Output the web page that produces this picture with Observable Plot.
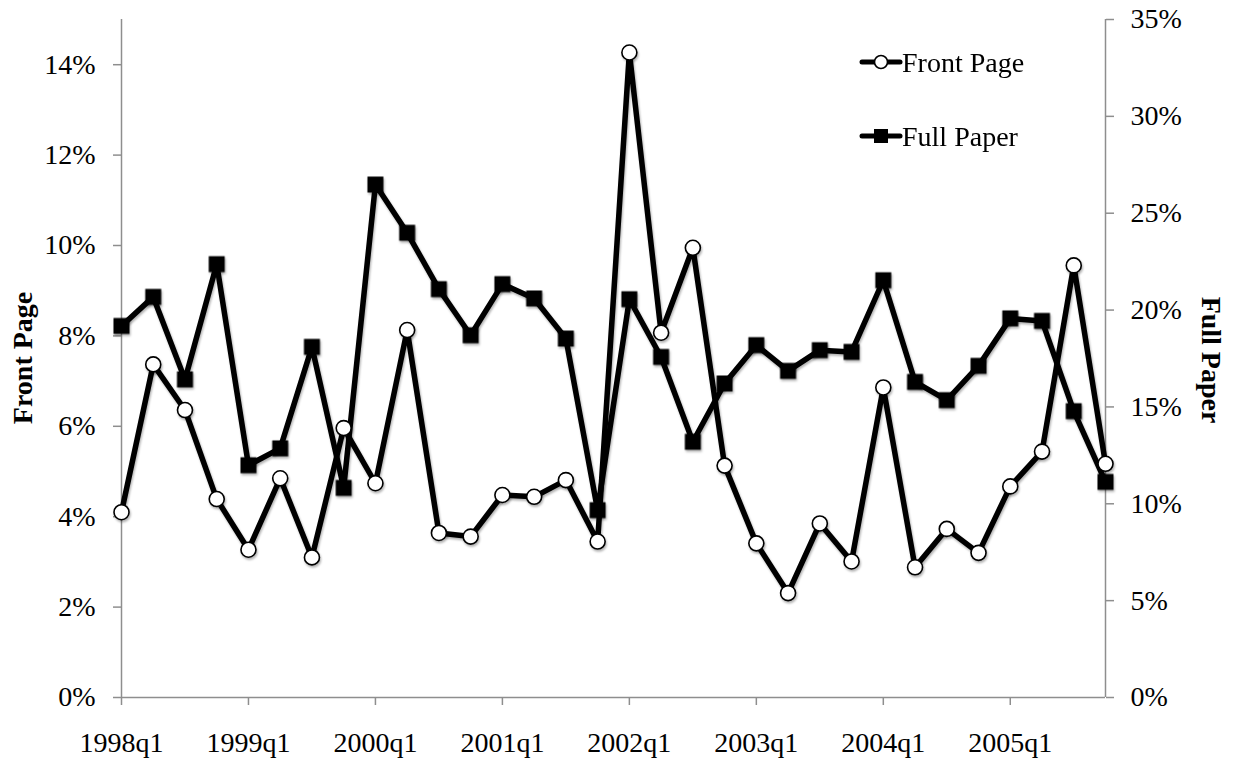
<!DOCTYPE html>
<html>
<head>
<meta charset="utf-8">
<script src="https://cdn.jsdelivr.net/npm/d3@7"></script>
<script src="https://cdn.jsdelivr.net/npm/@observablehq/plot@0.6"></script>
<style>
  html, body { margin: 0; padding: 0; background: #fff; overflow: hidden; }
  svg text { font-family: "Liberation Serif", "Times New Roman", serif; }
</style>
</head>
<body>
<div id="chart"></div>
<script>
const quarters = [
  "1998q1","1998q2","1998q3","1998q4",
  "1999q1","1999q2","1999q3","1999q4",
  "2000q1","2000q2","2000q3","2000q4",
  "2001q1","2001q2","2001q3","2001q4",
  "2002q1","2002q2","2002q3","2002q4",
  "2003q1","2003q2","2003q3","2003q4",
  "2004q1","2004q2","2004q3","2004q4",
  "2005q1","2005q2","2005q3","2005q4"
];
// Front Page share (left axis), in %
const frontPage = [
  4.10, 7.37, 6.36, 4.39,
  3.27, 4.85, 3.10, 5.96,
  4.74, 8.13, 3.64, 3.56,
  4.48, 4.44, 4.81, 3.45,
  14.27, 8.07, 9.95, 5.13,
  3.41, 2.31, 3.85, 3.01,
  6.86, 2.88, 3.73, 3.20,
  4.67, 5.44, 9.56, 5.17
];
// Full Paper share (right axis), in %
const fullPaper = [
  19.18, 20.68, 16.42, 22.37,
  11.99, 12.86, 18.10, 10.82,
  26.48, 23.99, 21.08, 18.70,
  21.34, 20.60, 18.53, 9.67,
  20.56, 17.58, 13.20, 16.21,
  18.19, 16.86, 17.93, 17.84,
  21.54, 16.29, 15.35, 17.12,
  19.57, 19.44, 14.78, 11.13
];
const xTickLabels = ["1998q1","1999q1","2000q1","2001q1","2002q1","2003q1","2004q1","2005q1"];
const leftTicks = [0, 2, 4, 6, 8, 10, 12, 14];
const rightTicks = [0, 5, 10, 15, 20, 25, 30, 35];
const leftMax = 15, rightMax = 35;
const seriesNames = ["Front Page", "Full Paper"];

const k = leftMax / rightMax; // map right-axis values onto left scale
const front = quarters.map((q, i) => ({q, v: frontPage[i] / 100}));
const full = quarters.map((q, i) => ({q, v: fullPaper[i] * k / 100}));

const gray = "#8e8e8e";
const W = 1235, H = 764;

const svg = Plot.plot({
  width: W,
  height: H,
  marginLeft: 121,
  marginRight: 130,
  marginTop: 19,
  marginBottom: 67,
  style: {fontFamily: "Liberation Serif, Times New Roman, serif", fontSize: "28px", background: "#fff", color: "#000"},
  x: {type: "point", domain: quarters, padding: 0, round: false, inset: 0},
  y: {domain: [0, leftMax / 100]},
  marks: [
    Plot.ruleX([quarters[0], quarters[quarters.length - 1]], {stroke: gray, strokeWidth: 1.5}),
    Plot.ruleY([0], {stroke: gray, strokeWidth: 1.5}),
    Plot.axisY({
      anchor: "left", ticks: leftTicks.map(d => d / 100),
      tickFormat: d => Math.round(d * 100) + "%",
      tickSize: 8, tickPadding: 18, stroke: gray, strokeWidth: 1.5, label: null, fill: "#000"
    }),
    Plot.axisY({
      anchor: "right", ticks: rightTicks.map(d => d * k / 100),
      tickFormat: d => Math.round(d / k * 100) + "%",
      tickSize: 8, tickPadding: 17, stroke: gray, strokeWidth: 1.5, label: null, fill: "#000"
    }),
    Plot.axisX({
      ticks: xTickLabels, tickSize: 8, tickPadding: 27, stroke: gray, strokeWidth: 1.5, label: null, fill: "#000"
    }),
    Plot.line(full, {x: "q", y: "v", stroke: "#000", strokeWidth: 5.5, strokeLinejoin: "round", className: "shadowed"}),
    Plot.dot(full, {x: "q", y: "v", symbol: "square", r: 9, fill: "#000", stroke: "none", className: "shadowed"}),
    Plot.line(front, {x: "q", y: "v", stroke: "#000", strokeWidth: 5.5, strokeLinejoin: "round", className: "shadowed"}),
    Plot.dot(front, {x: "q", y: "v", symbol: "circle", r: 7.5, fill: "#fff", stroke: "#000", strokeWidth: 1.6, className: "shadowed"})
  ]
});

document.getElementById("chart").appendChild(svg);

const s = d3.select(svg);

// soft drop shadow like the original
const defs = s.insert("defs", ":first-child");
const f = defs.append("filter").attr("id", "shadow").attr("x", "-20%").attr("y", "-20%").attr("width", "140%").attr("height", "140%");
f.append("feDropShadow").attr("dx", 1).attr("dy", 2).attr("stdDeviation", 1.2)
  .attr("flood-color", "#000").attr("flood-opacity", 0.3);
s.selectAll(".shadowed").attr("filter", "url(#shadow)");

// Axis titles
s.append("text")
  .attr("transform", "translate(32,358) rotate(-90)")
  .attr("text-anchor", "middle")
  .attr("font-weight", "bold")
  .attr("font-size", 28)
  .attr("fill", "#000")
  .text(seriesNames[0]);
s.append("text")
  .attr("transform", "translate(1202,360) rotate(90)")
  .attr("text-anchor", "middle")
  .attr("font-weight", "bold")
  .attr("font-size", 28)
  .attr("fill", "#000")
  .text(seriesNames[1]);

// Legend
const leg = s.append("g");
const legY = [62, 136];
seriesNames.forEach((name, i) => {
  const g = leg.append("g").attr("transform", `translate(0,${legY[i]})`);
  g.append("line").attr("x1", 862).attr("x2", 900).attr("y1", 0).attr("y2", 0)
    .attr("stroke", "#000").attr("stroke-width", 5).attr("stroke-linecap", "round");
  if (i === 0) {
    g.append("circle").attr("cx", 881).attr("cy", 0).attr("r", 6.5)
      .attr("fill", "#fff").attr("stroke", "#000").attr("stroke-width", 1.6);
  } else {
    g.append("rect").attr("x", 874).attr("y", -7).attr("width", 14).attr("height", 14).attr("fill", "#000");
  }
  g.append("text").attr("x", 902).attr("y", 0).attr("dy", "0.35em")
    .attr("text-anchor", "start")
    .attr("font-size", 28).attr("fill", "#000").text(name);
});
</script>
</body>
</html>
